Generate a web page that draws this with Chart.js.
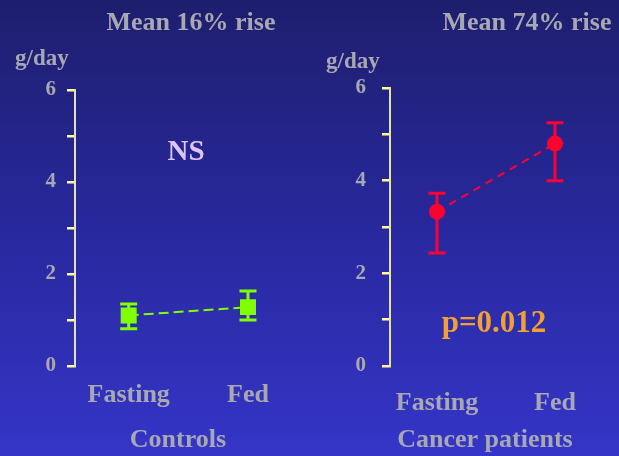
<!DOCTYPE html>
<html>
<head>
<meta charset="utf-8">
<script src="https://cdn.jsdelivr.net/npm/chart.js@4"></script>
<style>
  html, body { margin: 0; padding: 0; }
  body {
    width: 619px; height: 456px; overflow: hidden; position: relative;
    background: linear-gradient(to bottom, #1e1e6e 0%, #28289e 50%, #3535c8 100%);
  }
  canvas { position: absolute; top: 0; }
  #controls-chart { left: 0; }
  #cancer-chart { left: 310px; }
</style>
</head>
<body>
<canvas id="controls-chart" width="310" height="456"></canvas>
<canvas id="cancer-chart" width="309" height="456"></canvas>
<script>
// Data
const conditions = ['Fasting', 'Fed'];
const groupNames = ['Controls', 'Cancer patients'];
const panelTitles = ['Mean 16% rise', 'Mean 74% rise'];
const significance = ['NS', 'p=0.012'];
const unitLabel = 'g/day';
const yTickLabels = [0, 2, 4, 6];

const controlsMean = [1.1, 1.28];
const controlsLow = [0.81, 1.0];
const controlsHigh = [1.35, 1.63];

const cancerMean = [3.33, 4.8];
const cancerLow = [2.44, 4.0];
const cancerHigh = [3.73, 5.25];

const GREY = '#a8a8b2';
const FONT = '"Liberation Serif", "Times New Roman", serif';

// error bars drawn under the points
const errorBars = {
  id: 'errorBars',
  beforeDatasetsDraw(chart) {
    const ctx = chart.ctx;
    const y = chart.scales.y;
    chart.data.datasets.forEach((ds, i) => {
      const meta = chart.getDatasetMeta(i);
      meta.data.forEach((pt, j) => {
        const top = y.getPixelForValue(ds.errHigh[j]);
        const bot = y.getPixelForValue(ds.errLow[j]);
        ctx.save();
        ctx.strokeStyle = ds.pointBackgroundColor;
        ctx.lineWidth = 3;
        ctx.beginPath();
        ctx.moveTo(pt.x, top); ctx.lineTo(pt.x, bot);
        ctx.moveTo(pt.x - 8.5, top); ctx.lineTo(pt.x + 8.5, top);
        ctx.moveTo(pt.x - 8.5, bot); ctx.lineTo(pt.x + 8.5, bot);
        ctx.stroke();
        ctx.restore();
      });
    });
  }
};

// titles, unit label, group name and significance text
const panelText = {
  id: 'panelText',
  afterDraw(chart, args, opts) {
    const ctx = chart.ctx;
    opts.items.forEach(t => {
      ctx.save();
      ctx.font = 'bold ' + t.size + 'px ' + FONT;
      ctx.fillStyle = t.color || GREY;
      ctx.textAlign = t.align || 'center';
      ctx.textBaseline = 'alphabetic';
      ctx.fillText(t.text, t.x, t.y);
      ctx.restore();
    });
  }
};

function makePanel(id, mean, low, high, color, style, radius, dash, geo, texts) {
  return new Chart(document.getElementById(id), {
    type: 'line',
    data: {
      datasets: [{
        data: mean.map((v, i) => ({ x: i, y: v })),
        errLow: low,
        errHigh: high,
        borderColor: color,
        borderWidth: 2,
        borderDash: dash,
        pointStyle: style,
        pointRadius: radius,
        pointBackgroundColor: color,
        pointBorderColor: color,
        pointBorderWidth: 0,
        fill: false,
        tension: 0
      }]
    },
    options: {
      responsive: false,
      animation: false,
      layout: { padding: { top: geo.top, right: 10, bottom: 0, left: 0 } },
      plugins: {
        legend: { display: false },
        tooltip: { enabled: false },
        panelText: { items: texts }
      },
      scales: {
        x: {
          type: 'linear',
          min: geo.xmin,
          max: geo.xmax,
          afterBuildTicks: s => { s.ticks = conditions.map((c, i) => ({ value: i })); },
          afterFit: s => { s.height = 90; },
          grid: { display: false, drawTicks: false },
          border: { display: false },
          ticks: {
            autoSkip: false,
            maxRotation: 0,
            padding: geo.xpad,
            color: GREY,
            font: { family: FONT, size: 26, weight: 'bold' },
            callback: v => conditions[v]
          }
        },
        y: {
          min: 0,
          max: 6,
          afterFit: s => { s.width = geo.yw; },
          grid: {
            drawOnChartArea: false,
            color: '#ffff99',
            lineWidth: 2.5,
            tickLength: 8
          },
          border: { color: '#e2e2b4', width: 2 },
          ticks: {
            stepSize: 1,
            padding: geo.ypad,
            color: GREY,
            font: { family: FONT, size: 21, weight: 'bold' },
            callback: v => (yTickLabels.includes(v) ? String(v) : '')
          }
        }
      }
    },
    plugins: [errorBars, panelText]
  });
}

makePanel('controls-chart', controlsMean, controlsLow, controlsHigh,
  '#80ff00', 'rect', 11.3, [10, 5],
  { top: 90, yw: 75, xmin: -0.45, xmax: 1.425, xpad: 14, ypad: 11 },
  [
    { text: panelTitles[0], x: 191, y: 30, size: 26 },
    { text: unitLabel, x: 15, y: 65, size: 23, align: 'left' },
    { text: significance[0], x: 186, y: 160, size: 29, color: '#dcc4fa' },
    { text: groupNames[0], x: 178, y: 447, size: 26 }
  ]);

makePanel('cancer-chart', cancerMean, cancerLow, cancerHigh,
  '#ff0030', 'circle', 8, [8, 6],
  { top: 88, yw: 80, xmin: -0.398, xmax: 1.458, xpad: 22, ypad: 16 },
  [
    { text: panelTitles[1], x: 217, y: 30, size: 26 },
    { text: unitLabel, x: 16, y: 68, size: 23, align: 'left' },
    { text: significance[1], x: 184, y: 332, size: 31, color: '#f4a030' },
    { text: groupNames[1], x: 175, y: 447, size: 26 }
  ]);
</script>
</body>
</html>
